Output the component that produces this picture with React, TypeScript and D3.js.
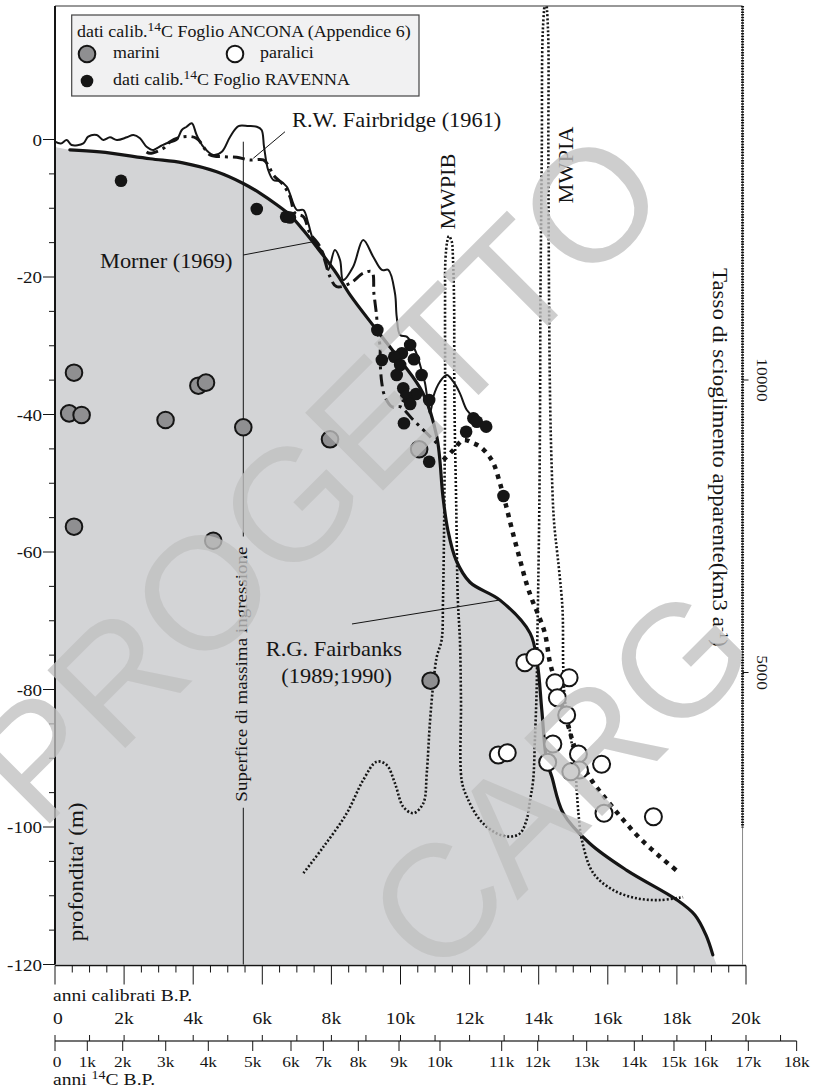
import React from 'react';
import * as d3 from 'd3';

const W = 813;
const H = 1089;

// ---- data: calibrated age (kyr BP) vs depth (m) ----
const fairbanks: [number, number][] = [
  [0.43, -1.5], [1.3, -1.8], [2.75, -2.8], [3.7, -3.4], [4.68, -4.7], [5.45, -6.4], [5.93, -7.8],
  [6.42, -9.5], [6.8, -11.0], [7.19, -13.2], [7.57, -15.6], [8.15, -19.5], [8.54, -22.6], [9.31, -27.7],
  [9.99, -32.1], [10.65, -36.9], [11.05, -43.2], [11.23, -52.0], [11.37, -56.8], [11.61, -61.2],
  [12.01, -64.4], [12.88, -67.0], [13.75, -71.8], [13.96, -76.2], [14.09, -83.0], [14.23, -90.3],
  [14.38, -92.7], [14.71, -98.0], [15.48, -102.4], [16.55, -106.3], [18.0, -110.6], [18.52, -112.8],
  [18.84, -115.7], [19.04, -118.6],
];

const fairbridge: [number, number][] = [
  [0, -0.32], [0.17, -0.58], [0.34, -0.07], [0.48, -0.8], [0.82, -0.55], [0.96, 0.41], [1.21, 0.65],
  [1.4, -0.07], [1.59, 0.32], [1.79, -0.07], [2.08, 0.32], [2.27, 0.65], [2.46, 0.17], [2.65, -1.05],
  [2.85, -1.53], [2.94, -1.28], [3.23, -0.55], [3.52, -0.07], [3.67, 1.38], [3.81, 1.86], [3.96, 2.36],
  [4.1, 0.65], [4.29, -1.05], [4.58, -2.25], [4.83, -1.77], [5.07, 0.41], [5.31, 1.96], [5.6, 1.96],
  [5.84, 1.86], [5.98, 1.38], [6.05, -1.05], [6.17, -4.44], [6.32, -5.89], [6.51, -6.04], [6.71, -6.87],
  [7.0, -10.25], [7.19, -10.25], [7.33, -12.19], [7.48, -14.62], [7.77, -16.55], [7.91, -18.98],
  [8.1, -16.07], [8.25, -17.53], [8.34, -20.44], [8.63, -18.5], [8.92, -14.62], [9.21, -17.05],
  [9.46, -18.98], [9.65, -18.98], [9.84, -22.37], [9.89, -25.77], [9.99, -28.44], [10.18, -28.68],
  [10.42, -30.62], [10.61, -33.53], [10.71, -35.46], [10.81, -38.87], [10.85, -39.83], [10.9, -38.87],
  [10.95, -37.41], [11.14, -35.23], [11.34, -34.25], [11.53, -35.23], [11.72, -36.92], [11.92, -39.35],
  [12.11, -40.32],
];

const morner: [number, number][] = [
  [2.65, -1.82], [2.75, -2.01], [3.14, -1.28], [3.33, -0.32], [3.71, 0.41], [4.1, 0.17], [4.49, -2.25],
  [4.87, -2.5], [5.26, -2.59], [5.64, -2.98], [6.03, -2.98], [6.17, -3.71], [6.32, -5.16], [6.61, -6.62],
  [6.8, -8.32], [6.95, -10.73], [7.19, -11.23], [7.38, -13.64], [7.67, -15.59], [7.96, -19.96],
  [8.15, -21.41], [8.54, -20.92], [8.92, -19.46], [9.17, -19.23], [9.23, -22.37], [9.31, -25.77],
  [9.33, -27.71], [9.41, -30.14], [9.41, -32.07], [9.46, -35.46], [9.55, -37.41], [9.75, -38.87],
  [9.99, -38.87], [10.37, -40.8], [10.76, -42.73], [11.05, -44.19],
];

const heavyDotted: [number, number][] = [
  [11.24, -46.62], [11.53, -45.16], [11.82, -43.71], [12.11, -44.19], [12.3, -44.68], [12.5, -45.64],
  [12.69, -47.1], [12.88, -50.01], [13.05, -53.16], [13.23, -56.8], [13.46, -61.16], [13.66, -64.8],
  [13.83, -67.23], [13.99, -69.16], [14.18, -71.83], [14.33, -76.19], [14.47, -78.62], [14.67, -82.25],
  [14.85, -85.16], [15.05, -88.51], [15.49, -92.87], [15.97, -96.07], [16.45, -98.98], [16.93, -101.64],
  [17.51, -104.32], [18.09, -106.73],
];

// apparent melting rate (km3/a) vs calibrated age (kyr BP)
const meltRate: [number, number][] = [
  [7.19, 1570], [7.77, 2020], [8.44, 2590], [8.92, 3160], [9.31, 3475], [9.6, 3420], [9.84, 3105],
  [10.08, 2705], [10.37, 2595], [10.66, 2765], [10.76, 3280], [10.85, 4130], [10.95, 4815], [11.05, 5270],
  [11.19, 5555], [11.23, 6240], [11.27, 7950], [11.29, 9660], [11.29, 11370], [11.3, 12050], [11.35, 12360],
  [11.4, 12460], [11.48, 12375], [11.52, 12050], [11.55, 11370], [11.56, 9660], [11.61, 7950],
  [11.66, 6240], [11.72, 5555], [11.75, 4530], [11.77, 3160], [11.92, 2875], [12.3, 2480], [12.78, 2250],
  [13.17, 2195], [13.46, 2250], [13.65, 2480], [13.75, 2820], [13.84, 3160], [13.89, 3845], [13.94, 4700],
  [13.96, 5555], [13.98, 6240], [14.02, 7950], [14.04, 9660], [14.05, 11370], [14.09, 13930],
  [14.12, 15980], [14.2, 16530], [14.27, 15980], [14.28, 13930], [14.3, 11370], [14.33, 9660],
  [14.37, 8630], [14.44, 7605], [14.59, 6750], [14.69, 6070], [14.71, 5100], [14.76, 4530], [14.91, 3965],
  [15.05, 3390], [15.15, 2595], [15.25, 2135], [15.58, 1570], [16.16, 1280], [16.84, 1140], [17.51, 1110],
  [18.18, 1160],
];

// calibrated 14C samples
const marini: [number, number][] = [
  [0.55, -33.92], [0.41, -39.83], [0.77, -40.07], [3.2, -40.8], [4.15, -35.81], [4.37, -35.37],
  [5.45, -41.86], [0.55, -56.32], [4.58, -58.36], [7.96, -43.61], [10.54, -45.06], [10.87, -78.72],
];
const paralici: [number, number][] = [
  [13.6, -76.1], [13.89, -75.32], [14.88, -78.28], [14.47, -79.01], [14.54, -81.19], [14.81, -83.71],
  [14.41, -87.93], [12.83, -89.53], [13.09, -89.19], [14.26, -90.59], [15.15, -89.38], [15.18, -91.71],
  [14.93, -91.96], [15.82, -90.88], [15.89, -98.01], [17.32, -98.5],
];
const ravenna: [number, number][] = [
  [1.91, -5.99], [5.84, -10.11], [6.69, -11.23], [6.8, -11.35], [9.33, -27.71], [10.28, -29.89],
  [10.04, -31.1], [9.82, -31.59], [9.46, -32.07], [10.39, -31.97], [9.99, -32.8], [9.89, -34.25],
  [10.61, -34.25], [10.08, -36.19], [10.45, -37.02], [10.16, -37.41], [10.83, -37.89], [10.28, -38.47],
  [10.1, -41.28], [12.11, -40.55], [12.21, -41.05], [12.48, -41.77], [11.9, -42.5], [10.83, -46.87],
  [12.98, -51.85],
];

// axes
const depthTicks = d3.range(0, -121, -5);
const depthLabels = [0, -20, -40, -60, -80, -100, -120];
const calMinor = d3.range(0, 20.01, 0.5);
const calLabels = [0, 2, 4, 6, 8, 10, 12, 14, 16, 18, 20];
const calKyr = d3.range(0, 21.01, 1);
const c14Ages = [0, 1, 2, 3, 4, 5, 6, 7, 8, 9, 10, 11, 12, 13, 14, 15, 16, 17, 18];
const c14AsCal = [0, 0.935, 1.96, 3.205, 4.437, 5.723, 6.831, 7.766, 8.779, 9.957, 11.143, 12.929,
  13.971, 15.389, 16.767, 17.916, 18.833, 20.067, 21.466];
const rateTicks = [5000, 10000];
const massimaIngressione = 5.45;

const x = d3.scaleLinear().domain([0, 20]).range([55, 746]);
const y = d3.scaleLinear().domain([0, -120]).range([139.5, 964.5]);
const yRate = d3.scaleLinear().domain([0, 10000]).range([965, 380]);

const FONT = '"Liberation Serif", "Times New Roman", serif';
const SX = 1.12;
const INK = '#151515';
const GRAY_FILL = '#d3d4d6';

const frameTop = 6;
const frameRight = x(19.9);
const bottom = y(-120);

// rows of the two age scales under the plot
const calTitleY = 1001;
const calLabelY = 1024;
const c14AxisY = 1041;
const c14LabelY = 1067;
const c14TitleY = 1085;

function Label(props: { x: number; y: number; rot?: number; size: number; anchor?: string; fill?: string; children: any }) {
  const { rot = 0, anchor = 'start', fill = INK } = props;
  return (
    <text
      transform={`translate(${props.x},${props.y}) rotate(${rot}) scale(${SX},1)`}
      fontSize={props.size}
      textAnchor={anchor}
      fill={fill}
      fontFamily={FONT}
    >
      {props.children}
    </text>
  );
}

const smooth = d3.curveCatmullRom.alpha(0.5);
const depthLine = d3.line<[number, number]>().x((d) => x(d[0])).y((d) => y(d[1])).curve(smooth);
const rateLine = d3.line<[number, number]>().x((d) => x(d[0])).y((d) => yRate(d[1])).curve(smooth);
const grayArea = d3
  .area<[number, number]>()
  .x((d) => x(d[0]))
  .y0(bottom)
  .y1((d) => y(d[1]))
  .curve(smooth);

export default function App() {
  const areaData: [number, number][] = [[0, -1.1], ...fairbanks, [19.15, -120]];
  const ingressTop = y(-0.32);
  const ingressTextEnd = y(-59.2);
  const ingressResume = y(-97.2);

  return (
    <svg width={W} height={H} style={{ position: 'absolute', left: 0, top: 0, background: '#fff' }}>
      <defs>
        <clipPath id="plotClip">
          <rect x={x(0)} y={frameTop} width={frameRight - x(0)} height={bottom - frameTop} />
        </clipPath>
      </defs>

      {/* envelope below the Fairbanks curve */}
      <path d={grayArea(areaData) || ''} fill={GRAY_FILL} />

      {/* frame */}
      <line x1={x(0)} x2={frameRight} y1={frameTop} y2={frameTop} stroke="#333" strokeWidth={1.2} />
      <line x1={frameRight} x2={frameRight} y1={frameTop} y2={bottom} stroke="#8a8a8a" strokeWidth={1} />

      {/* surface of maximum ingression */}
      <line x1={x(massimaIngressione)} x2={x(massimaIngressione)} y1={ingressTop} y2={ingressTextEnd - 10} stroke={INK} strokeWidth={1} />
      <line x1={x(massimaIngressione)} x2={x(massimaIngressione)} y1={ingressResume} y2={bottom} stroke={INK} strokeWidth={1} />
      <Label x={x(massimaIngressione) + 4} y={ingressTextEnd} rot={-90} size={17} anchor="end">
        Superfice di massima ingressione
      </Label>

      {/* melt-water pulses (apparent melting rate) */}
      <g clipPath="url(#plotClip)">
        <path d={rateLine(meltRate) || ''} fill="none" stroke={INK} strokeWidth={2.6} strokeDasharray="2 2" />
      </g>

      {/* right axis: apparent melting rate */}
      <line x1={frameRight} x2={frameRight} y1={frameTop} y2={yRate(2350)} stroke={INK} strokeWidth={3} strokeDasharray="1.5 1.2" />
      {rateTicks.map((r) => (
        <g key={'rt' + r}>
          <line x1={frameRight} x2={frameRight + 6} y1={yRate(r)} y2={yRate(r)} stroke={INK} strokeWidth={1} />
          <Label x={frameRight + 14} y={yRate(r)} rot={90} size={15.5} anchor="middle">
            {String(r)}
          </Label>
        </g>
      ))}
      <Label x={x(19.045)} y={yRate(11915)} rot={90} size={20.5}>
        Tasso di scioglimento apparente(km3 a<tspan dy={-7} fontSize={13}>-1</tspan>
        <tspan dy={7}>)</tspan>
      </Label>

      {/* sea-level curves */}
      <path d={depthLine(fairbanks) || ''} fill="none" stroke={INK} strokeWidth={3.2} strokeLinecap="round" />
      <path d={depthLine(fairbridge) || ''} fill="none" stroke={INK} strokeWidth={2} strokeLinejoin="round" />
      <path d={depthLine(morner) || ''} fill="none" stroke={INK} strokeWidth={3} strokeDasharray="12 5 3 5" />
      <path d={depthLine(heavyDotted) || ''} fill="none" stroke={INK} strokeWidth={4.5} strokeDasharray="4.5 5.5" />

      {/* samples */}
      {marini.map((d, i) => (
        <circle key={'m' + i} cx={x(d[0])} cy={y(d[1])} r={8.3} fill="#8f8f91" stroke={INK} strokeWidth={2} />
      ))}
      {paralici.map((d, i) => (
        <circle key={'p' + i} cx={x(d[0])} cy={y(d[1])} r={8.5} fill="#fff" stroke={INK} strokeWidth={2} />
      ))}
      {ravenna.map((d, i) => (
        <circle key={'r' + i} cx={x(d[0])} cy={y(d[1])} r={6.3} fill={INK} />
      ))}

      {/* curve labels */}
      <Label x={x(6.86)} y={y(1.82)} size={20}>R.W. Fairbridge (1961)</Label>
      <line x1={x(6.657)} y1={y(1.13)} x2={x(5.74)} y2={y(-2.73)} stroke={INK} strokeWidth={1} />
      <Label x={x(1.302)} y={y(-18.69)} size={20}>Morner (1969)</Label>
      <line x1={x(5.45)} y1={y(-16.8)} x2={x(7.476)} y2={y(-14.87)} stroke={INK} strokeWidth={1} />
      <Label x={x(10.043)} y={y(-75.13)} size={20} anchor="end">R.G. Fairbanks</Label>
      <Label x={x(9.754)} y={y(-79.05)} size={20} anchor="end">(1989;1990)</Label>
      <line x1={x(8.596)} y1={y(-70.47)} x2={x(12.88)} y2={y(-66.98)} stroke={INK} strokeWidth={1} />
      <Label x={x(11.577)} y={y(-7.56)} rot={-90} size={20} anchor="middle">MWPIB</Label>
      <Label x={x(14.993)} y={y(-3.71)} rot={-90} size={20} anchor="middle">MWPIA</Label>

      {/* left axis */}
      <line x1={x(0)} x2={x(0)} y1={frameTop} y2={bottom} stroke={INK} strokeWidth={2} />
      {depthTicks.map((d) => (
        <line key={'dt' + d} x1={x(0)} x2={x(0) - (d % 20 === 0 ? 12 : 6)} y1={y(d)} y2={y(d)} stroke={INK} strokeWidth={1} />
      ))}
      {depthLabels.map((d) => (
        <Label key={'dl' + d} x={42} y={y(d) + 6} size={17} anchor="end">{String(d)}</Label>
      ))}
      <Label x={x(0.81)} y={y(-116.6)} rot={-90} size={20.5}>profondita' (m)</Label>

      {/* calibrated age axis */}
      <line x1={x(0)} x2={x(20)} y1={bottom + 1} y2={bottom + 1} stroke={INK} strokeWidth={1.5} />
      {calMinor.map((t) => (
        <line key={'cm' + t} x1={x(t)} x2={x(t)} y1={bottom + 1} y2={bottom + (t % 2 === 0 ? 20 : 8)} stroke={INK} strokeWidth={1} />
      ))}
      <Label x={53} y={calTitleY} size={17.5}>anni calibrati B.P.</Label>
      {calLabels.map((t) => (
        <Label key={'cl' + t} x={x(t) + (t === 0 ? 3 : 0)} y={calLabelY} size={17.5} anchor="middle">
          {t === 0 ? '0' : t + 'k'}
        </Label>
      ))}

      {/* radiocarbon age axis */}
      <line x1={x(0)} x2={x(c14AsCal[c14AsCal.length - 1])} y1={c14AxisY} y2={c14AxisY} stroke="#444" strokeWidth={1.5} />
      {calKyr.map((t) => (
        <line key={'ck' + t} x1={x(t)} x2={x(t)} y1={c14AxisY} y2={c14AxisY - 6} stroke={INK} strokeWidth={1} />
      ))}
      {c14Ages.map((a, i) => (
        <g key={'c14' + a}>
          <line x1={x(c14AsCal[i])} x2={x(c14AsCal[i])} y1={c14AxisY} y2={c14AxisY + 10} stroke={INK} strokeWidth={1} />
          <Label x={x(c14AsCal[i]) + (a === 0 ? 2 : 0)} y={c14LabelY} size={15.5} anchor="middle">
            {a === 0 ? '0' : a + 'k'}
          </Label>
        </g>
      ))}
      <Label x={53} y={c14TitleY} size={17.5}>
        anni <tspan dy={-6} fontSize={12.5}>14</tspan>
        <tspan dy={6}>C B.P.</tspan>
      </Label>

      {/* legend */}
      <rect x={71.7} y={15} width={347.3} height={81} fill="#f1f1f2" stroke="#444" strokeWidth={1.2} />
      <Label x={77} y={37} size={16}>
        dati calib.<tspan dy={-6} fontSize={12}>14</tspan>
        <tspan dy={6}>C Foglio ANCONA (Appendice 6)</tspan>
      </Label>
      <circle cx={87} cy={54} r={8.3} fill="#8f8f91" stroke={INK} strokeWidth={2} />
      <Label x={113} y={58} size={16}>marini</Label>
      <circle cx={235} cy={54} r={8.3} fill="#fff" stroke={INK} strokeWidth={2} />
      <Label x={260} y={58} size={16}>paralici</Label>
      <circle cx={87} cy={81} r={6.3} fill={INK} />
      <Label x={113} y={85} size={16}>
        dati calib.<tspan dy={-6} fontSize={12}>14</tspan>
        <tspan dy={6}>C Foglio RAVENNA</tspan>
      </Label>

      {/* watermark */}
      <g fill="#c1c1c1" opacity={0.78} fontFamily='"Liberation Sans", Arial, sans-serif' fontSize={160}>
        <text transform="translate(40.6,832.8) rotate(-45)">PROGETTO</text>
        <text transform="translate(435.6,982.4) rotate(-45)">CARG</text>
      </g>
    </svg>
  );
}
